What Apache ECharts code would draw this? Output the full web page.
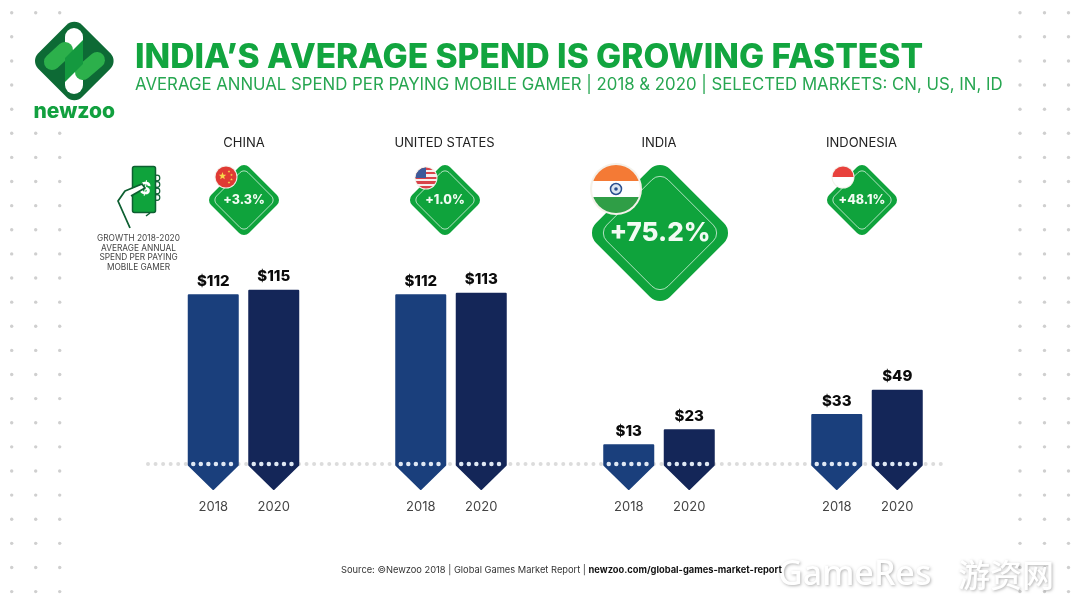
<!DOCTYPE html>
<html>
<head>
<meta charset="utf-8">
<title>India's average spend</title>
<script src="https://cdn.jsdelivr.net/npm/echarts@6/dist/echarts.min.js"></script>
<style>
  html, body { margin: 0; padding: 0; background: #fff; }
  #chart { width: 1080px; height: 608px; }
</style>
</head>
<body>
<div id="chart"></div>
<script>
const years = ['2018', '2020'];
const countries = ['CHINA', 'UNITED STATES', 'INDIA', 'INDONESIA'];
const chinaSpend = [112, 115];
const usSpend = [112, 113];
const indiaSpend = [13, 23];
const indonesiaSpend = [33, 49];
const growth = ['+3.3%', '+1.0%', '+75.2%', '+48.1%'];

const FONT = 'Inter';
const GREEN = '#0fa33c';
const DARK_GREEN = '#0d6a35';
const barColors = ['#1a3f7c', '#142658'];
const gridLefts = [183, 390.5, 598.5, 806.5];
const labelCenters = [244, 444.5, 659, 861.5];
const BAR_HALF = 24.5;
const TIP = 25;

const spends = [chinaSpend, usSpend, indiaSpend, indonesiaSpend];

function renderBar(params, api) {
    const idx = api.value(0);
    const val = api.value(1);
    const top = api.coord([idx, val]);
    const base = api.coord([idx, 0]);
    const x = top[0];
    return {
        type: 'group',
        children: [
            {
                type: 'polygon',
                shape: {
                    points: [
                        [x - BAR_HALF, top[1] + 1],
                        [x + BAR_HALF, top[1] + 1],
                        [x + BAR_HALF, base[1] + 1],
                        [x, base[1] + TIP],
                        [x - BAR_HALF, base[1] + 1]
                    ]
                },
                style: { fill: barColors[idx], stroke: barColors[idx], lineWidth: 2, lineJoin: 'round' }
            },
            {
                type: 'line',
                shape: { x1: x - 20, y1: base[1], x2: x + 20, y2: base[1] },
                style: { stroke: '#dfe8f4', lineWidth: 4.5, lineCap: 'round', lineDash: [0, 7.55] }
            },
            {
                type: 'text',
                style: {
                    x: x,
                    y: top[1] - 13,
                    text: '$' + val,
                    fill: '#0b0b0b',
                    font: '800 15px ' + FONT,
                    align: 'center',
                    verticalAlign: 'middle'
                }
            }
        ]
    };
}

// background dots on both sides, some hidden behind the logo
function dotField() {
    const out = [];
    [11.7, 35.7, 59.7, 1020, 1044.5, 1068.5].forEach(x => {
        for (let k = 0; k < 25; k++) {
            const y = 12.7 + k * 24.12;
            if (x === 59.7 && k >= 1 && k <= 4) continue;
            if (x === 35.7 && (k === 2 || k === 4)) continue;
            out.push({
                type: 'circle', z: 1, silent: true,
                shape: { cx: x, cy: y, r: 1.7 },
                style: { fill: '#cfcfcf' }
            });
        }
    });
    return out;
}

function diamond(cx, cy, side, r, style, z) {
    return {
        type: 'rect', x: cx, y: cy, rotation: Math.PI / 4, z: z,
        shape: { x: -side / 2, y: -side / 2, width: side, height: side, r: r },
        style: style
    };
}

function badge(cx, cy, side, r, label, size) {
    return [
        diamond(cx, cy, side, r, { fill: GREEN }, 3),
        diamond(cx, cy, side * 0.83, r * 0.8, { fill: 'none', stroke: 'rgba(255,255,255,0.8)', lineWidth: 0.8 }, 4),
        {
            type: 'text', z: 5, x: cx, y: cy,
            style: { text: label, fill: '#f2fbf3', font: '800 ' + size + 'px ' + FONT, align: 'center', verticalAlign: 'middle' }
        }
    ];
}

function hardStops(list) {
    const stops = [];
    list.forEach((c, i) => {
        stops.push({ offset: i / list.length, color: c });
        stops.push({ offset: (i + 1) / list.length, color: c });
    });
    return { type: 'linear', x: 0, y: 0, x2: 0, y2: 1, colorStops: stops };
}

function disc(cx, cy, r, fill, ring) {
    return [
        { type: 'circle', z: 6, shape: { cx: cx, cy: cy, r: r + ring }, style: { fill: '#f4f1ea' } },
        { type: 'circle', z: 7, shape: { cx: cx, cy: cy, r: r }, style: { fill: fill } }
    ];
}

function starPoints(cx, cy, r) {
    const pts = [];
    for (let i = 0; i < 10; i++) {
        const a = -Math.PI / 2 + i * Math.PI / 5;
        const rr = i % 2 ? r * 0.42 : r;
        pts.push([cx + rr * Math.cos(a), cy + rr * Math.sin(a)]);
    }
    return pts;
}

function flags() {
    const red = '#e03a34';
    const star = (x, y, s) => ({ type: 'polygon', z: 8, shape: { points: starPoints(x, y, s) }, style: { fill: '#f7d64a' } });
    const us = ['#d9434a', '#f6f0ee', '#d9434a', '#f6f0ee', '#d9434a', '#f6f0ee', '#d9434a', '#f6f0ee', '#d9434a'];
    return [].concat(
        disc(226, 177, 10.5, red, 1),
        [star(222.5, 176, 4), star(229, 171.5, 1.4), star(231.5, 175, 1.4), star(231.5, 179.5, 1.4), star(229, 182.5, 1.4)],
        disc(426, 178, 10.5, hardStops(us), 1),
        [{ type: 'sector', z: 8, shape: { cx: 426, cy: 178, r: 10.5, r0: 0, startAngle: Math.PI, endAngle: Math.PI * 1.5 }, style: { fill: '#3c5a9a' } }],
        disc(616, 189, 24, hardStops(['#f47a35', '#ffffff', '#2f9e46']), 2),
        [
            { type: 'circle', z: 8, shape: { cx: 616, cy: 189, r: 5.5 }, style: { fill: '#dbe6f2', stroke: '#2a4f8f', lineWidth: 1.5 } },
            { type: 'circle', z: 8, shape: { cx: 616, cy: 189, r: 1.8 }, style: { fill: '#2a4f8f' } }
        ],
        disc(843, 177, 10.5, hardStops(['#e8413c', '#ffffff']), 1)
    );
}

function logo() {
    const cx = 74.3, cy = 61;
    const pill = (x1, y1, x2, y2, w, color, z) => ({
        type: 'line', z: z,
        shape: { x1: x1, y1: y1, x2: x2, y2: y2 },
        style: { stroke: color, lineWidth: w, lineCap: 'round' }
    });
    return [
        { type: 'rect', z: 2, shape: { x: 30, y: 18, width: 90, height: 106 }, style: { fill: '#fff' } },
        diamond(cx, cy, 62, 11, { fill: DARK_GREEN }, 3),
        pill(74, 37, 74, 50, 18, '#ffffff', 4),
        pill(74, 72, 74, 85, 18, '#ffffff', 4),
        pill(52, 62, 65, 50, 16, '#2cb04b', 4),
        pill(83, 72, 97, 60, 16, '#2cb04b', 4),
        { type: 'polygon', z: 5, shape: { points: [[65, 58], [83, 40], [83, 64], [65, 82]] }, style: { fill: '#14993f' } },
        {
            type: 'text', z: 5, x: 74.3, y: 112,
            style: { text: 'newzoo', fill: '#12a03f', font: '800 21px ' + FONT, align: 'center', verticalAlign: 'middle' }
        }
    ];
}

function phoneIcon() {
    const ink = '#0d5f31';
    const bump = y => ({ type: 'circle', z: 2, shape: { cx: 157, cy: y, r: 2.8 }, style: { fill: '#fff', stroke: ink, lineWidth: 1.2 } });
    return [
        bump(178), bump(184.5), bump(191), bump(197.5),
        { type: 'rect', z: 3, shape: { x: 132.5, y: 166.5, width: 23, height: 46, r: 2 }, style: { fill: GREEN, stroke: ink, lineWidth: 1.5 } },
        { type: 'text', z: 4, x: 145, y: 189, rotation: -0.15, style: { text: '$', fill: '#fff', font: '800 17px ' + FONT, align: 'center', verticalAlign: 'middle' } },
        { type: 'polygon', z: 5, shape: { points: [[131, 189], [142, 184], [145, 188], [131, 196]] }, style: { fill: '#fff' } },
        { type: 'polyline', z: 5, shape: { points: [[130, 228], [118, 201], [125, 191], [142, 184], [145, 188], [131, 196]] }, style: { fill: 'none', stroke: ink, lineWidth: 1.8, lineJoin: 'round' } },
        { type: 'line', z: 5, shape: { x1: 146, y1: 216, x2: 150, y2: 213 }, style: { stroke: ink, lineWidth: 1.5 } }
    ];
}

const watermarkShadow = { textShadowColor: 'rgba(0,0,0,0.3)', textShadowBlur: 3, textShadowOffsetX: 1, textShadowOffsetY: 1 };

const texts = [
    { type: 'text', z: 5, x: 135, y: 58, style: { text: 'INDIA\u2019S AVERAGE SPEND IS GROWING FASTEST', fill: '#12a53f', font: '800 33.5px ' + FONT, verticalAlign: 'middle' } },
    { type: 'text', z: 5, x: 135, y: 85, style: { text: 'AVERAGE ANNUAL SPEND PER PAYING MOBILE GAMER | 2018 & 2020 | SELECTED MARKETS: CN, US, IN, ID', fill: '#27a651', font: '400 16.8px ' + FONT, verticalAlign: 'middle' } },
    { type: 'text', z: 5, x: 138.5, y: 253, style: { text: 'GROWTH 2018-2020\nAVERAGE ANNUAL\nSPEND PER PAYING\nMOBILE GAMER', fill: '#444', font: '400 8.3px ' + FONT, lineHeight: 9.5, align: 'center', verticalAlign: 'middle' } },
    {
        type: 'text', z: 10, x: 341, y: 570,
        style: {
            text: '{a|Source: \u00A9Newzoo 2018 | Global Games Market Report | }{b|newzoo.com/global-games-market-report}',
            verticalAlign: 'middle',
            rich: {
                a: { fill: '#333', font: '400 9.3px ' + FONT },
                b: { fill: '#111', font: '700 9.3px ' + FONT }
            }
        }
    },
    { type: 'text', z: 9, x: 778, y: 575, style: Object.assign({ text: 'GameRes', fill: '#fff', font: '500 34px "Noto Sans"', verticalAlign: 'middle' }, watermarkShadow) },
    { type: 'text', z: 9, x: 958, y: 575, style: Object.assign({ text: '\u6E38\u8D44\u7F51', fill: '#fff', font: '500 32px "Noto Sans CJK SC"', verticalAlign: 'middle' }, watermarkShadow) }
].concat(countries.map((name, i) => ({
    type: 'text', z: 5, x: labelCenters[i], y: 143.5,
    style: { text: name, fill: '#222', font: '400 13px ' + FONT, align: 'center', verticalAlign: 'middle' }
})));

const baseline = {
    type: 'line', z: 1,
    shape: { x1: 148, y1: 464, x2: 945, y2: 464 },
    style: { stroke: '#dcdcdc', lineWidth: 4, lineCap: 'round', lineDash: [0, 7.55] }
};

const chart = echarts.init(document.getElementById('chart'), null, { renderer: 'canvas' });
chart.setOption({
    animation: false,
    backgroundColor: '#fff',
    grid: gridLefts.map(left => ({ left: left, width: 121, top: 270, height: 194 })),
    xAxis: countries.map((c, i) => ({
        type: 'category',
        gridIndex: i,
        data: years,
        axisLine: { show: false },
        axisTick: { show: false },
        axisLabel: { margin: 37, color: '#444', fontFamily: FONT, fontSize: 13 }
    })),
    yAxis: countries.map((c, i) => ({ type: 'value', gridIndex: i, min: 0, max: 128, show: false })),
    series: spends.map((vals, i) => ({
        type: 'custom',
        name: countries[i],
        xAxisIndex: i,
        yAxisIndex: i,
        clip: false,
        renderItem: renderBar,
        encode: { x: 0, y: 1 },
        data: vals.map((v, k) => [k, v])
    })),
    graphic: [].concat(
        dotField(),
        [baseline],
        logo(),
        phoneIcon(),
        badge(244, 200, 53.6, 7, growth[0], 12.5),
        badge(445, 200, 53.6, 7, growth[1], 12.5),
        badge(660, 233, 104.4, 14, growth[2], 26),
        badge(862, 200, 53.6, 7, growth[3], 12.5),
        flags(),
        texts
    )
});
</script>
</body>
</html>
